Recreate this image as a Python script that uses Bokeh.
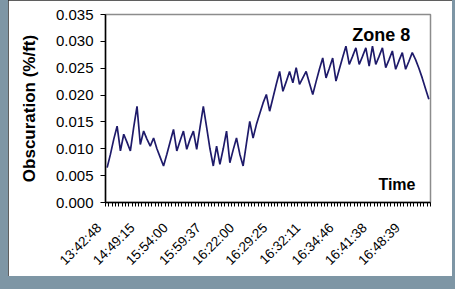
import math
import numpy as np
from bokeh.plotting import figure
from bokeh.models import Range1d, FixedTicker, Label, NumeralTickFormatter
from bokeh.embed import file_html
from bokeh.resources import INLINE

# ---- data ----
tick_labels = ["13:42:48", "14:49:15", "15:54:00", "15:59:37", "16:22:00",
               "16:29:25", "16:32:11", "16:34:46", "16:41:38", "16:48:39"]
label_every = 10
obscuration = [
    0.0065, 0.0090, 0.0118, 0.0142, 0.0096, 0.0127, 0.0112, 0.0096, 0.0140, 0.0179,
    0.0108, 0.0133, 0.0118, 0.0105, 0.0120, 0.0100, 0.0084, 0.0068, 0.0090, 0.0113,
    0.0136, 0.0096, 0.0115, 0.0133, 0.0099, 0.0118, 0.0133, 0.0099, 0.0140, 0.0179,
    0.0140, 0.0100, 0.0068, 0.0105, 0.0071, 0.0100, 0.0133, 0.0074, 0.0098, 0.0120,
    0.0090, 0.0068, 0.0110, 0.0151, 0.0120, 0.0145, 0.0165, 0.0185, 0.0201, 0.0170,
    0.0195, 0.0220, 0.0244, 0.0207, 0.0225, 0.0244, 0.0223, 0.0251, 0.0220, 0.0232,
    0.0244, 0.0222, 0.0201, 0.0225, 0.0248, 0.0269, 0.0232, 0.0250, 0.0269, 0.0226,
    0.0248, 0.0270, 0.0291, 0.0257, 0.0272, 0.0288, 0.0257, 0.0272, 0.0288, 0.0254,
    0.0291, 0.0257, 0.0272, 0.0288, 0.0251, 0.0266, 0.0282, 0.0248, 0.0264, 0.0279,
    0.0248, 0.0263, 0.0279, 0.0266, 0.0250, 0.0232, 0.0212, 0.0192,
]
y_ticks = [0.000, 0.005, 0.010, 0.015, 0.020, 0.025, 0.030, 0.035]

n = len(obscuration)
xs = np.arange(n) + 0.5

p = figure(frame_width=325, frame_height=188, output_backend="svg", toolbar_location=None,
           x_range=Range1d(0, n), y_range=Range1d(0, 0.035),
           min_border_left=97, min_border_right=22, min_border_top=14, min_border_bottom=74)
p.background_fill_color = "white"
p.border_fill_color = "white"
p.outline_line_color = "#8c8c8c"
p.outline_line_width = 1.5
p.xgrid.visible = False
p.ygrid.visible = False

p.line(xs, obscuration, line_color="#1e1a6a", line_width=1.7)

# x axis
pad = "\u00a0\u00a0\u00a0"  # keeps the rotated label ends just left of their category
major = [i + 0.5 for i in range(0, n, label_every)][:len(tick_labels)]
p.xaxis.ticker = FixedTicker(ticks=major, minor_ticks=list(range(0, n + 1)))
p.xaxis.major_label_overrides = {m: t + pad for m, t in zip(major, tick_labels)}
p.xaxis.major_label_orientation = math.pi / 4
p.xaxis.major_tick_out = 0
p.xaxis.major_tick_in = 0
p.xaxis.minor_tick_out = 4
p.xaxis.minor_tick_in = 0
p.xaxis.minor_tick_line_color = "black"
p.xaxis.axis_line_color = "black"
p.xaxis.axis_line_width = 1.5
p.xaxis.major_label_text_font = "Liberation Sans"
p.xaxis.major_label_text_font_size = "13.5px"
p.xaxis.major_label_text_color = "black"
p.xaxis.major_label_standoff = 11

# y axis
p.yaxis.ticker = FixedTicker(ticks=y_ticks)
p.yaxis.formatter = NumeralTickFormatter(format="0.000")
p.yaxis.minor_tick_line_color = None
p.yaxis.major_tick_out = 5
p.yaxis.major_tick_in = 0
p.yaxis.major_tick_line_color = "black"
p.yaxis.axis_line_color = "black"
p.yaxis.axis_line_width = 1.5
p.yaxis.major_label_text_font = "Liberation Sans"
p.yaxis.major_label_text_font_size = "15px"
p.yaxis.major_label_text_color = "black"
p.yaxis.major_label_standoff = 7
p.yaxis.axis_label = "Obscuration (%/ft)"
p.yaxis.axis_label_text_font = "Liberation Sans"
p.yaxis.axis_label_text_font_style = "bold"
p.yaxis.axis_label_text_font_size = "17px"
p.yaxis.axis_label_text_color = "black"
p.yaxis.axis_label_standoff = 14

p.add_layout(Label(x=74.4, y=0.0311, text="Zone 8", text_font="Liberation Sans",
                   text_font_style="bold", text_font_size="18px", text_color="black",
                   text_baseline="alphabetic"))
p.add_layout(Label(x=82.3, y=0.0034, text="Time", text_font="Liberation Sans",
                   text_font_style="bold", text_font_size="16px", text_color="black",
                   text_baseline="alphabetic"))

p.styles = {"outline": "2px solid #2a2a2a", "outline-offset": "-2px", "margin-left": "8px"}

html = file_html(p, INLINE)
html = html.replace("<head>", "<head><style>html,body{margin:0;padding:0;background:#7e96a5;}</style>", 1)
open("out.html", "w").write(html)
